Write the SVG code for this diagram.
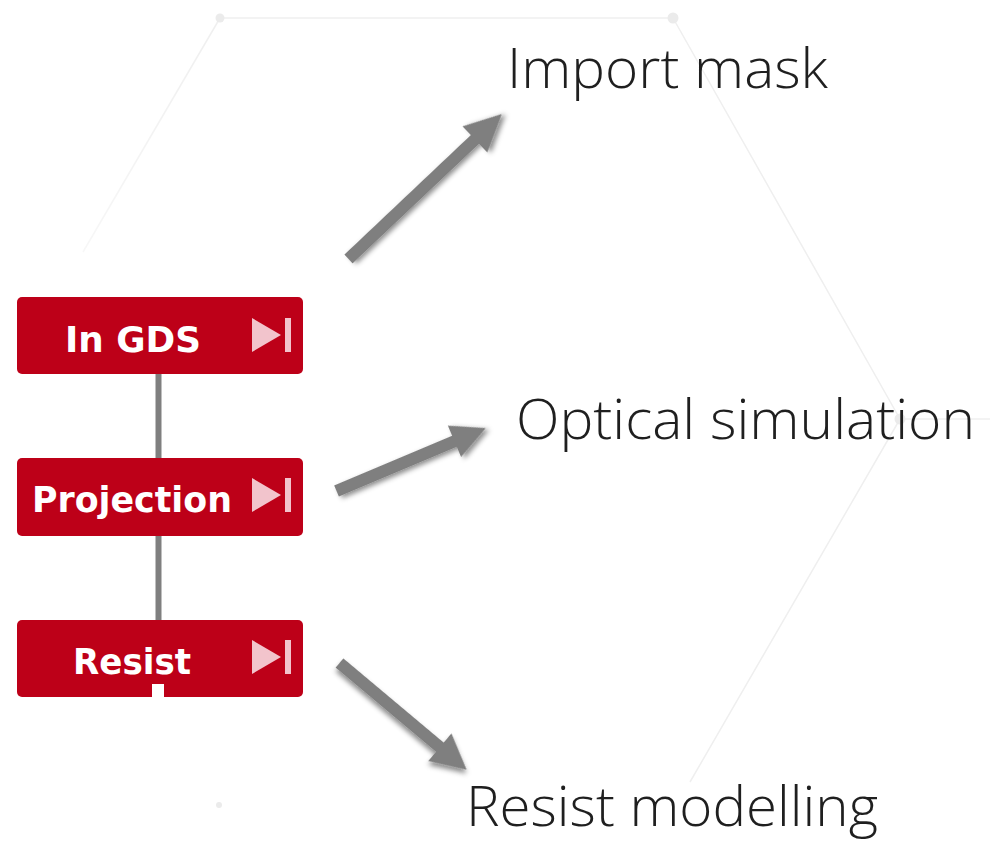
<svg xmlns="http://www.w3.org/2000/svg" width="990" height="841" viewBox="0 0 990 841">
  <defs>
    <style>
      .node rect.box { fill: #bd0018; }
      .node text { font-family: "DejaVu Sans", Verdana, sans-serif; font-weight: bold; font-size: 36px; fill: #ffffff; }
      .icon { fill: #f2c4cc; }
      .link { stroke: #7f7f7f; stroke-width: 6; fill: none; }
      .arrow { fill: #7f7f7f; filter: url(#shadow); }
      .label { font-family: "Open Sans", "Liberation Sans", sans-serif; font-weight: 300; font-size: 56px; fill: #1f1f1f; }
      .hex { stroke: #efefef; stroke-width: 1.5; fill: none; }
      .hexdot { fill: #ebebeb; }
    </style>
    <filter id="shadow" x="-20%" y="-20%" width="140%" height="140%">
      <feDropShadow dx="2.5" dy="3" stdDeviation="2.5" flood-color="#000" flood-opacity="0.45"/>
    </filter>
    <linearGradient id="fadeLeft" x1="220" y1="18" x2="83" y2="252" gradientUnits="userSpaceOnUse">
      <stop offset="0" stop-color="#efefef"/>
      <stop offset="1" stop-color="#f7f7f7"/>
    </linearGradient>
  </defs>

  <rect width="990" height="841" fill="#ffffff"/>

  <!-- faint hexagon backdrop -->
  <g id="backdrop">
    <line class="hex" x1="220" y1="18" x2="673" y2="18"/>
    <line x1="220" y1="18" x2="83" y2="252" stroke="url(#fadeLeft)" stroke-width="1.5"/>
    <line class="hex" x1="673" y1="18" x2="900" y2="419"/>
    <line class="hex" x1="900" y1="419" x2="990" y2="419"/>
    <line class="hex" x1="900" y1="419" x2="690" y2="782"/>
    <circle class="hexdot" cx="220" cy="18" r="4.5"/>
    <circle class="hexdot" cx="673" cy="18" r="5.5"/>
    <circle class="hexdot" cx="900" cy="419" r="5.5"/>
    <circle class="hexdot" cx="219" cy="805" r="3"/>
  </g>

  <!-- connectors -->
  <g id="connectors">
    <line class="link" x1="158.5" y1="374" x2="158.5" y2="458"/>
    <line class="link" x1="158.5" y1="536" x2="158.5" y2="620"/>
    <path class="arrow" transform="translate(348.5,259) rotate(-43.4)" d="M0,-6 L174,-6 L174,-18 L211,0 L174,18 L174,6 L0,6 Z"/>
    <path class="arrow" transform="translate(336.5,491) rotate(-22.85)" d="M0,-6 L128,-6 L128,-17 L162,0 L128,17 L128,6 L0,6 Z"/>
    <path class="arrow" transform="translate(339.5,663) rotate(40)" d="M0,-6 L131,-6 L131,-18 L166,0 L131,18 L131,6 L0,6 Z"/>
  </g>

  <!-- process nodes -->
  <g id="node-in-gds" class="node">
    <rect class="box" x="17" y="297" width="286" height="77" rx="5"/>
    <text x="65" y="352" textLength="136" lengthAdjust="spacingAndGlyphs">In GDS</text>
    <polygon class="icon" points="252,318 281,335 252,352"/>
    <rect class="icon" x="285" y="318" width="6" height="34"/>
  </g>

  <g id="node-projection" class="node">
    <rect class="box" x="17" y="458" width="286" height="78" rx="5"/>
    <text x="32" y="512" textLength="200" lengthAdjust="spacingAndGlyphs">Projection</text>
    <polygon class="icon" points="252,478 281,495 252,512"/>
    <rect class="icon" x="285" y="478" width="6" height="34"/>
  </g>

  <g id="node-resist" class="node">
    <rect class="box" x="17" y="620" width="286" height="77" rx="5"/>
    <text x="73" y="674" textLength="118" lengthAdjust="spacingAndGlyphs">Resist</text>
    <polygon class="icon" points="252,640 281,657 252,674"/>
    <rect class="icon" x="285" y="640" width="6" height="34"/>
    <rect x="152" y="684" width="12" height="13" fill="#ffffff"/>
  </g>

  <!-- step labels -->
  <g id="label-import-mask">
    <text class="label" x="507" y="88" textLength="321" lengthAdjust="spacingAndGlyphs">Import mask</text>
  </g>
  <g id="label-optical-simulation">
    <text class="label" x="516" y="439" textLength="459" lengthAdjust="spacingAndGlyphs">Optical simulation</text>
  </g>
  <g id="label-resist-modelling">
    <text class="label" x="466" y="826" textLength="412" lengthAdjust="spacingAndGlyphs">Resist modelling</text>
  </g>
</svg>
